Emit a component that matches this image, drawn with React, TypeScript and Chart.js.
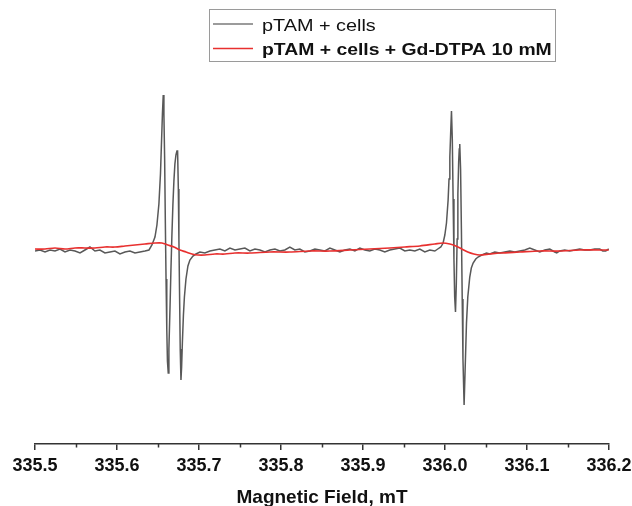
import React, { useEffect, useRef } from "react";
import { Chart, registerables } from "chart.js";

Chart.register(...registerables);

// Magnetic field (mT) and signal (a.u.)
const grayField = [
  335.5, 335.5061, 335.5122, 335.5183, 335.5244, 335.5305, 335.5366, 335.5427, 335.5488, 335.5549,
  335.5609, 335.567, 335.5731, 335.5792, 335.5853, 335.5914, 335.5975, 335.6036, 335.6097, 335.6158,
  335.6219, 335.628, 335.6341, 335.639, 335.6426, 335.6463, 335.6487, 335.6511, 335.653, 335.6542,
  335.6554, 335.6564, 335.6572, 335.6581, 335.6589, 335.6598, 335.6607, 335.6615, 335.6625, 335.6633,
  335.6646, 335.6658, 335.667, 335.6682, 335.6694, 335.6706, 335.6719, 335.6731, 335.6739, 335.6748,
  335.6755, 335.6763, 335.6771, 335.678, 335.6788, 335.6798, 335.681, 335.6822, 335.6841, 335.6865,
  335.6889, 335.6926, 335.6963, 335.7011, 335.7072, 335.7133, 335.7194, 335.7255, 335.7316, 335.7377,
  335.7438, 335.7499, 335.756, 335.7621, 335.7682, 335.7743, 335.7804, 335.7865, 335.7926, 335.7986,
  335.8047, 335.8108, 335.8169, 335.823, 335.8291, 335.8352, 335.8413, 335.8474, 335.8535, 335.8596,
  335.8657, 335.8718, 335.8779, 335.884, 335.8901, 335.8962, 335.9023, 335.9083, 335.9144, 335.9205,
  335.9266, 335.9327, 335.9388, 335.9449, 335.951, 335.9571, 335.9632, 335.9693, 335.9754, 335.9815,
  335.9876, 335.9912, 335.9949, 335.9977, 335.9998, 336.0018, 336.0038, 336.0049, 336.0059, 336.007,
  336.0079, 336.0089, 336.0099, 336.0109, 336.0118, 336.0128, 336.0138, 336.0148, 336.0157, 336.0167,
  336.0174, 336.018, 336.019, 336.02, 336.021, 336.0219, 336.0233, 336.0244, 336.0262, 336.0278,
  336.0302, 336.0321, 336.0343, 336.0375, 336.0403, 336.0449, 336.0506, 336.0546, 336.0607, 336.0668,
  336.0729, 336.079, 336.0851, 336.0912, 336.0973, 336.1034, 336.1095, 336.1156, 336.1217, 336.1278,
  336.1338, 336.1363, 336.1399, 336.146, 336.1521, 336.1582, 336.1643, 336.1704, 336.1765, 336.1826,
  336.1887, 336.1924, 336.196, 336.1997,
];
const graySignal = [
  -2, -1, -3, -1, -2, 0, -3, -1, -2, -4,
  -1, 2, -2, -1, -4, -3, -2, -5, -3, -2,
  -4, -3, -2, -1, 4, 12, 24, 45, 75, 105,
  135, 154, 135, 90, 30, -30, -80, -112, -124, -100,
  -60, -20, 15, 45, 68, 85, 94, 98, 98, 60,
  10, -45, -100, -131, -118, -92, -66, -48, -30, -17,
  -11, -7, -5, -3, -4, -2, -1, 0, -2, 1,
  -1, 0, 1, -2, 0, -1, -3, -1, 0, -2,
  -1, 2, -1, 0, -3, -2, 0, -1, -2, 1,
  -1, -3, -1, 0, -2, 1, -1, -2, 0, -1,
  -3, -1, 0, 1, -2, -1, -2, 0, -3, -1,
  -2, 0, 2, 6, 14, 26, 49, 70, 92, 118,
  138, 110, 50, -10, -48, -63, -35, 10, 55, 88,
  100, 105, 80, 20, -50, -110, -156, -125, -74, -48,
  -28, -19, -14, -10, -8, -6, -4, -5, -3, -4,
  -3, -2, -3, -2, -1, 1, -1, -3, -1, 0,
  -3, -4, -2, -1, -2, -1, 0, -1, -1, 0,
  0, -2, -2, 0,
];

const redField = [
  335.5, 335.5122, 335.5244, 335.5366, 335.5488, 335.5609, 335.5731, 335.5853, 335.5975, 335.6097,
  335.6219, 335.6341, 335.6463, 335.6548, 335.6621, 335.6694, 335.6767, 335.6841, 335.6914, 335.6987,
  335.7072, 335.7194, 335.7316, 335.7438, 335.7621, 335.7865, 335.8108, 335.8352, 335.8596, 335.884,
  335.9083, 335.9327, 335.951, 335.9693, 335.9876, 335.9973, 336.0059, 336.0132, 336.0205, 336.0278,
  336.0351, 336.0424, 336.0546, 336.0668, 336.0912, 336.1156, 336.1399, 336.1643, 336.1887, 336.1997,
];
const redSignal = [
  0, 0, 1, 0, 1, 1, 1, 2, 2, 3,
  4, 5, 6, 6, 4, 2, -1, -3, -5, -6,
  -6, -5, -5, -4, -4, -3, -3, -2, -2, -1,
  0, 1, 2, 3, 5, 6, 5, 3, 0, -3,
  -5, -6, -5, -4, -3, -2, -2, -1, -1, -1,
];

const seriesNames = ["pTAM + cells", "pTAM + cells + Gd-DTPA 10 mM"];
const xMin = 335.5;
const xMax = 336.2;
const xStep = 0.1;
const axisTitle = "Magnetic Field, mT";

const GRAY = "#585858";
const RED = "#e8302f";

const boxLegend = {
  id: "boxLegend",
  afterDraw(chart: any) {
    const ctx = chart.ctx;
    ctx.save();
    ctx.strokeStyle = "#9a9a9a";
    ctx.lineWidth = 1;
    ctx.strokeRect(209.5, 9.5, 346, 52);
    const rows = [
      { text: seriesNames[0], color: "#7a7a7a", weight: "normal", y: 24, sx: 1.24 },
      { text: seriesNames[1], color: RED, weight: "bold", y: 48.5, sx: 1.21 },
    ];
    rows.forEach((r) => {
      ctx.strokeStyle = r.color;
      ctx.lineWidth = 1.5;
      ctx.beginPath();
      ctx.moveTo(213, r.y);
      ctx.lineTo(253, r.y);
      ctx.stroke();
      ctx.save();
      ctx.translate(262, r.y + 6.5);
      ctx.scale(r.sx, 1.05);
      ctx.fillStyle = "#111";
      ctx.font = `${r.weight} 16px "Liberation Sans", Arial, sans-serif`;
      ctx.textBaseline = "alphabetic";
      ctx.fillText(r.text, 0, 0);
      ctx.restore();
    });
    ctx.restore();
  },
};

const minorTicks = {
  id: "minorTicks",
  afterDraw(chart: any) {
    const sx = chart.scales.x;
    const ctx = chart.ctx;
    const y0 = chart.chartArea.bottom;
    ctx.save();
    ctx.strokeStyle = "#333";
    ctx.lineWidth = 1.5;
    for (let v = xMin + xStep / 2; v < xMax; v += xStep) {
      const px = Math.round(sx.getPixelForValue(v)) + 0.5;
      ctx.beginPath();
      ctx.moveTo(px, y0);
      ctx.lineTo(px, y0 + 3.5);
      ctx.stroke();
    }
    ctx.restore();
  },
};

export default function App() {
  const ref = useRef<HTMLCanvasElement | null>(null);
  useEffect(() => {
    if (!ref.current) return;
    const gray = grayField.map((x, i) => ({ x, y: graySignal[i] }));
    const red = redField.map((x, i) => ({ x, y: redSignal[i] }));
    const chart = new Chart(ref.current, {
      type: "line",
      data: {
        datasets: [
          {
            label: seriesNames[1],
            data: red,
            borderColor: RED,
            borderWidth: 1.7,
            pointRadius: 0,
            tension: 0.3,
            order: 0,
          },
          {
            label: seriesNames[0],
            data: gray,
            borderColor: GRAY,
            borderWidth: 1.5,
            pointRadius: 0,
            tension: 0,
            order: 1,
          },
        ],
      },
      options: {
        animation: false,
        responsive: false,
        devicePixelRatio: 1,
        layout: { padding: { top: 54, left: 35, right: 23, bottom: -1 } },
        plugins: {
          legend: { display: false },
          tooltip: { enabled: false },
        },
        scales: {
          x: {
            type: "linear",
            min: xMin,
            max: xMax,
            afterFit: (scale: any) => {
              scale.paddingRight = 0;
              scale.paddingLeft = 0;
            },
            ticks: {
              stepSize: xStep,
              padding: 5,
              color: "#111",
              font: { family: '"Liberation Sans", Arial, sans-serif', size: 18, weight: "bold" },
              callback: (v: any) => Number(v).toFixed(1),
            },
            grid: {
              drawOnChartArea: false,
              drawTicks: true,
              tickLength: 6,
              color: "#333",
              lineWidth: 1.5,
            },
            border: { color: "#333", width: 1.5 },
            title: {
              display: true,
              text: axisTitle,
              color: "#111",
              padding: { top: 6.4, bottom: 0 },
              font: { family: '"Liberation Sans", Arial, sans-serif', size: 19, weight: "bold", lineHeight: 1 },
            },
          },
          y: {
            display: false,
            min: -195,
            max: 195,
          },
        },
      },
      plugins: [boxLegend, minorTicks],
    });
    return () => chart.destroy();
  }, []);
  return (
    <div style={{ position: "fixed", left: 0, top: 0, width: 632, height: 506, background: "#fff" }}>
      <canvas ref={ref} width={632} height={506} style={{ width: 632, height: 506, display: "block" }} />
    </div>
  );
}
